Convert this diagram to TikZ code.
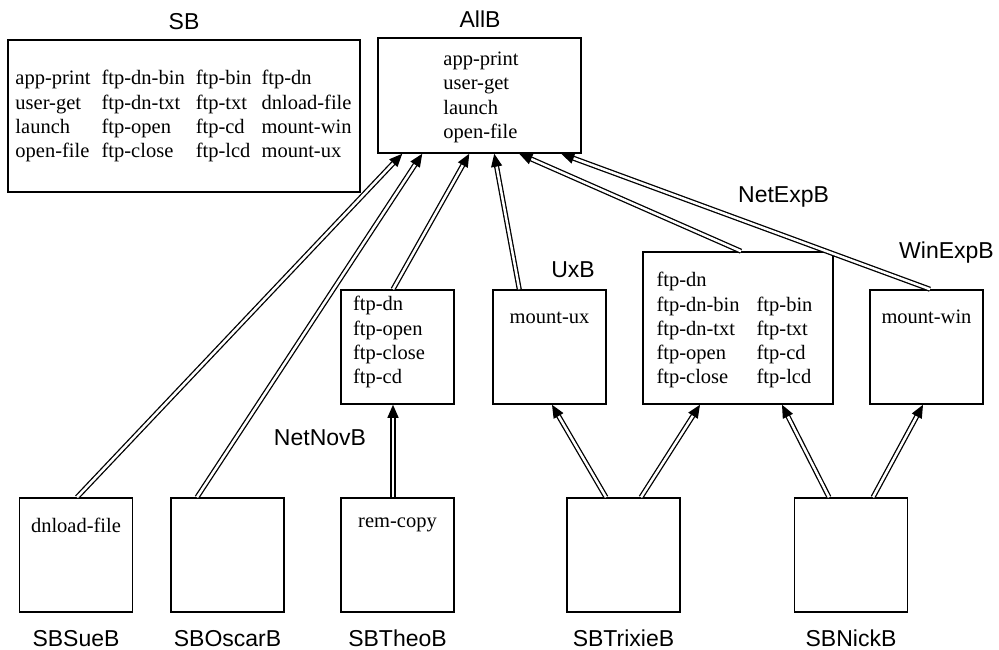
\documentclass[tikz,border=0pt]{standalone}
\usepackage{fontspec}
\setmainfont{Liberation Serif}
\newfontfamily\lblfont{Liberation Sans}
\usetikzlibrary{arrows.meta,calc}
\begin{document}
\begin{tikzpicture}[x=1pt,y=-1pt,
  box/.style={draw,line width=1.5pt,rectangle,inner sep=0pt},
  smallbox/.style={box,minimum width=113pt,minimum height=114pt},
  txt/.style={inner sep=0pt,font=\fontsize{20.5}{24.3}\selectfont,align=left},
  lbl/.style={inner sep=0pt,font=\lblfont\fontsize{23}{27}\selectfont},
  link/.style={double,line width=1.3pt,double distance=2.5pt,
    -{Triangle[length=13pt,width=11pt]}}
]
\useasboundingbox (0,0) rectangle (999,650);

% boxes
\node[box,minimum width=352pt,minimum height=152pt] (sb) at (184,116) {};
\node[box,minimum width=203pt,minimum height=115pt] (allb) at (479.5,95.5) {};
\node[smallbox] (netnov) at (397.5,347) {};
\node[smallbox] (ux) at (549.5,347) {};
\node[box,minimum width=190pt,minimum height=152pt] (netexp) at (738,328) {};
\node[smallbox] (winexp) at (926.5,347) {};
\node[smallbox] (sue) at (76,555) {};
\node[smallbox] (oscar) at (227.5,555) {};
\node[smallbox] (theo) at (397.5,555) {};
\node[smallbox] (trixie) at (623.5,555) {};
\node[smallbox] (nick) at (851,555) {};

% box texts
\node[txt] (sbtxt) at (183.5,116.5) {\begin{tabular}{@{}l@{\hspace{11pt}}l@{\hspace{11pt}}l@{\hspace{10pt}}l@{}}
app-print & ftp-dn-bin & ftp-bin & ftp-dn\\
user-get & ftp-dn-txt & ftp-txt & dnload-file\\
launch & ftp-open & ftp-cd & mount-win\\
open-file & ftp-close & ftp-lcd & mount-ux
\end{tabular}};
\node[txt] (allbtxt) at (481,97) {\begin{tabular}{@{}l@{}}
app-print\\ user-get\\ launch\\ open-file
\end{tabular}};
\node[txt] (netnovtxt) at (389,342.5) {\begin{tabular}{@{}l@{}}
ftp-dn\\ ftp-open\\ ftp-close\\ ftp-cd
\end{tabular}};
\node[txt] (uxtxt) at (549.5,318) {mount-ux};
\node[txt] (netexptxt) at (734.5,330.5) {\begin{tabular}{@{}l@{\hspace{17pt}}l@{}}
ftp-dn & \\
ftp-dn-bin & ftp-bin\\
ftp-dn-txt & ftp-txt\\
ftp-open & ftp-cd\\
ftp-close & ftp-lcd
\end{tabular}};
\node[txt] (winexptxt) at (926.5,317) {mount-win};
\node[txt] (suetxt) at (76,525) {dnload-file};
\node[txt] (theotxt) at (397.5,525) {rem-copy};

% labels
\node[lbl,anchor=base] (sblbl) at (184,30) {SB};
\node[lbl,anchor=base] (allblbl) at (480,28) {AllB};
\node[lbl,anchor=base] (netnovlbl) at (320,445) {NetNovB};
\node[lbl,anchor=base east] (uxlbl) at (595,277) {UxB};
\node[lbl,anchor=base west] (netexplbl) at (738,202) {NetExpB};
\node[lbl,anchor=base west] (winexplbl) at (899,258) {WinExpB};
\node[lbl,anchor=base] (suelbl) at (76,646) {SBSueB};
\node[lbl,anchor=base] (oscarlbl) at (227.5,646) {SBOscarB};
\node[lbl,anchor=base] (theolbl) at (397.5,646) {SBTheoB};
\node[lbl,anchor=base] (trixielbl) at (623.5,646) {SBTrixieB};
\node[lbl,anchor=base] (nicklbl) at (851,646) {SBNickB};

% connectors to AllB
\draw[link] ($(sue.north)+(1,0)$) -- ($(allb.south west)+(25,0)$);
\draw[link] ($(oscar.north)+(-30.5,0)$) -- ($(allb.south west)+(45,0)$);
\draw[link] ($(netnov.north)+(-4.5,0)$) -- ($(allb.south west)+(92,0)$);
\draw[link] ($(ux.north west)+(27,0)$) -- ($(allb.south west)+(117,0)$);
\draw[link] ($(netexp.north)+(3,0)$) -- ($(allb.south west)+(142,0)$);
\draw[link] ($(winexp.north)+(3.5,0)$) -- ($(allb.south west)+(184,0)$);
% lower connectors
\draw[link] ($(theo.north)+(-4.5,0)$) -- ($(netnov.south)+(-4.5,0)$);
\draw[link] ($(trixie.north)+(-17.5,0)$) -- ($(ux.south)+(2.5,0)$);
\draw[link] ($(trixie.north)+(17.5,0)$) -- ($(netexp.south)+(-38,0)$);
\draw[link] ($(nick.north)+(-22,0)$) -- ($(netexp.south)+(44,0)$);
\draw[link] ($(nick.north)+(22,0)$) -- ($(winexp.south)+(-3.5,0)$);
\end{tikzpicture}
\end{document}
